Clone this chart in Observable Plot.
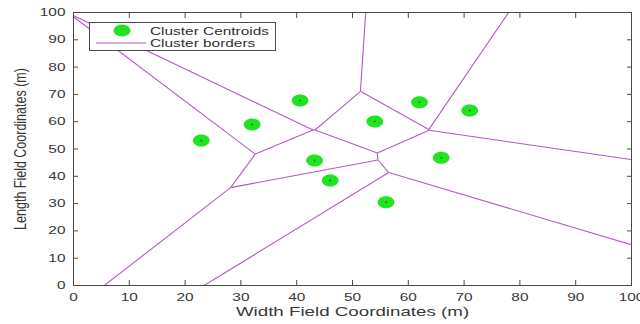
<!DOCTYPE html>
<html><head><meta charset="utf-8">
<script src="https://cdn.jsdelivr.net/npm/d3@7"></script>
<script src="https://cdn.jsdelivr.net/npm/@observablehq/plot@0.6"></script>
<style>
body{margin:0;background:#fff;}
#wrap{position:relative;width:640px;height:324px;overflow:hidden;}
#wrap svg{display:block;}
</style></head><body><div id="wrap"></div>
<script>
// ---- data ----
const centroidX = [22.9, 32.0, 40.6, 43.2, 46.0, 54.0, 62.0, 71.0, 65.9, 56.0];
const centroidY = [53.1, 59.0, 67.8, 45.8, 38.5, 60.1, 67.1, 64.1, 46.8, 30.5];
const xTickValues = [0, 10, 20, 30, 40, 50, 60, 70, 80, 90, 100];
const yTickValues = [0, 10, 20, 30, 40, 50, 60, 70, 80, 90, 100];
const xLabel = "Width Field Coordinates (m)";
const yLabel = "Length Field Coordinates (m)";
const legendLabels = ["Cluster Centroids", "Cluster borders"];

const centroids = centroidX.map((x, i) => ({x, y: centroidY[i]}));

// Cluster borders: Voronoi edges of the centroids, in data coordinates
const delaunay = d3.Delaunay.from(centroids, d => d.x, d => d.y);
const voronoi = delaunay.voronoi([-1000, -1000, 1100, 1100]);
const borders = [];
let cur = null;
voronoi.render({
  moveTo(x, y) { cur = [x, y]; },
  lineTo(x, y) { borders.push({x1: cur[0], y1: cur[1], x2: x, y2: y}); cur = [x, y]; },
  closePath() {}
});

const ellipse = {
  draw(ctx, size) {
    const r = Math.sqrt(size / Math.PI), rx = r * 1.4, ry = r, k = 0.5523;
    ctx.moveTo(rx, 0);
    ctx.bezierCurveTo(rx, ry * k, rx * k, ry, 0, ry);
    ctx.bezierCurveTo(-rx * k, ry, -rx, ry * k, -rx, 0);
    ctx.bezierCurveTo(-rx, -ry * k, -rx * k, -ry, 0, -ry);
    ctx.bezierCurveTo(rx * k, -ry, rx, -ry * k, rx, 0);
    ctx.closePath();
  }
};

const axisColor = "#4a4a4a";
const chart = Plot.plot({
  width: 640, height: 324,
  marginLeft: 73, marginRight: 9, marginTop: 12, marginBottom: 39,
  x: {domain: [0, 100]},
  y: {domain: [0, 100]},
  style: {fontFamily: "'Liberation Sans', Arial, sans-serif", fontSize: "11px", color: "#383838", background: "#fff"},
  marks: [
    Plot.link(borders, {x1: "x1", y1: "y1", x2: "x2", y2: "y2", stroke: "#b35cc2", strokeWidth: 1.1, clip: true}),
    Plot.dot(centroids, {x: "x", y: "y", r: 6, symbol: ellipse, fill: "#1fe41f", stroke: "none"}),
    Plot.dot(centroids, {x: "x", y: "y", r: 1, fill: "#1a7a1a"}),
    Plot.frame({stroke: axisColor}),
    Plot.axisX({ticks: xTickValues, tickSize: -5, tickPadding: 13, stroke: axisColor, label: xLabel, labelAnchor: "center", labelOffset: 30, labelArrow: "none"}),
    Plot.axisX({anchor: "top", ticks: xTickValues, tickSize: -5, stroke: axisColor, tickFormat: () => "", label: null}),
    Plot.axisY({ticks: yTickValues, tickSize: -5, tickPadding: 13, stroke: axisColor, label: yLabel, labelAnchor: "center", labelOffset: 59, labelArrow: "none"}),
    Plot.axisY({anchor: "right", ticks: yTickValues, tickSize: -5, stroke: axisColor, tickFormat: () => "", label: null})
  ]
});
document.getElementById("wrap").appendChild(chart);

function scaleText(t, sx, sy) {
  let tr = t.getAttribute("transform");
  if (!tr) {
    const x = +t.getAttribute("x") || 0, y = +t.getAttribute("y") || 0;
    t.removeAttribute("x"); t.removeAttribute("y");
    tr = `translate(${x},${y})`;
  }
  t.setAttribute("transform", `${tr} scale(${sx},${sy})`);
}
chart.querySelectorAll('g[aria-label="x-axis tick label"] text, g[aria-label="y-axis tick label"] text').forEach(t => scaleText(t, 1.4, 1));
chart.querySelectorAll('g[aria-label="x-axis label"]').forEach(g => { g.setAttribute("font-size", "12.5px"); g.style.fontSize = "12.5px"; g.querySelectorAll("text").forEach(t => scaleText(t, 1.5, 1)); });
chart.querySelectorAll('g[aria-label="y-axis label"]').forEach(g => { g.setAttribute("font-size", "12.5px"); g.style.fontSize = "12.5px"; g.querySelectorAll("text").forEach(t => scaleText(t, 1, 1.3)); });

// Legend (opaque box inside the axes, top-left)
const ns = "http://www.w3.org/2000/svg";
const leg = document.createElementNS(ns, "svg");
leg.setAttribute("width", 187); leg.setAttribute("height", 29);
leg.style.position = "absolute"; leg.style.left = "89px"; leg.style.top = "22px";
leg.innerHTML = `
  <rect x="0.5" y="0.5" width="186" height="28" fill="#fff" stroke="#4a4a4a" stroke-width="1"/>
  <ellipse cx="33" cy="8.5" rx="8.5" ry="6" fill="#1fe41f"/>
  <line x1="7" x2="57" y1="21" y2="21" stroke="#b35cc2" stroke-width="1.1"/>
  <text transform="translate(61,12.5) scale(1.4,1)" font-family="'Liberation Sans', Arial, sans-serif" font-size="11" fill="#303030">${legendLabels[0]}</text>
  <text transform="translate(61,25) scale(1.4,1)" font-family="'Liberation Sans', Arial, sans-serif" font-size="11" fill="#303030">${legendLabels[1]}</text>`;
document.getElementById("wrap").appendChild(leg);
</script></body></html>
